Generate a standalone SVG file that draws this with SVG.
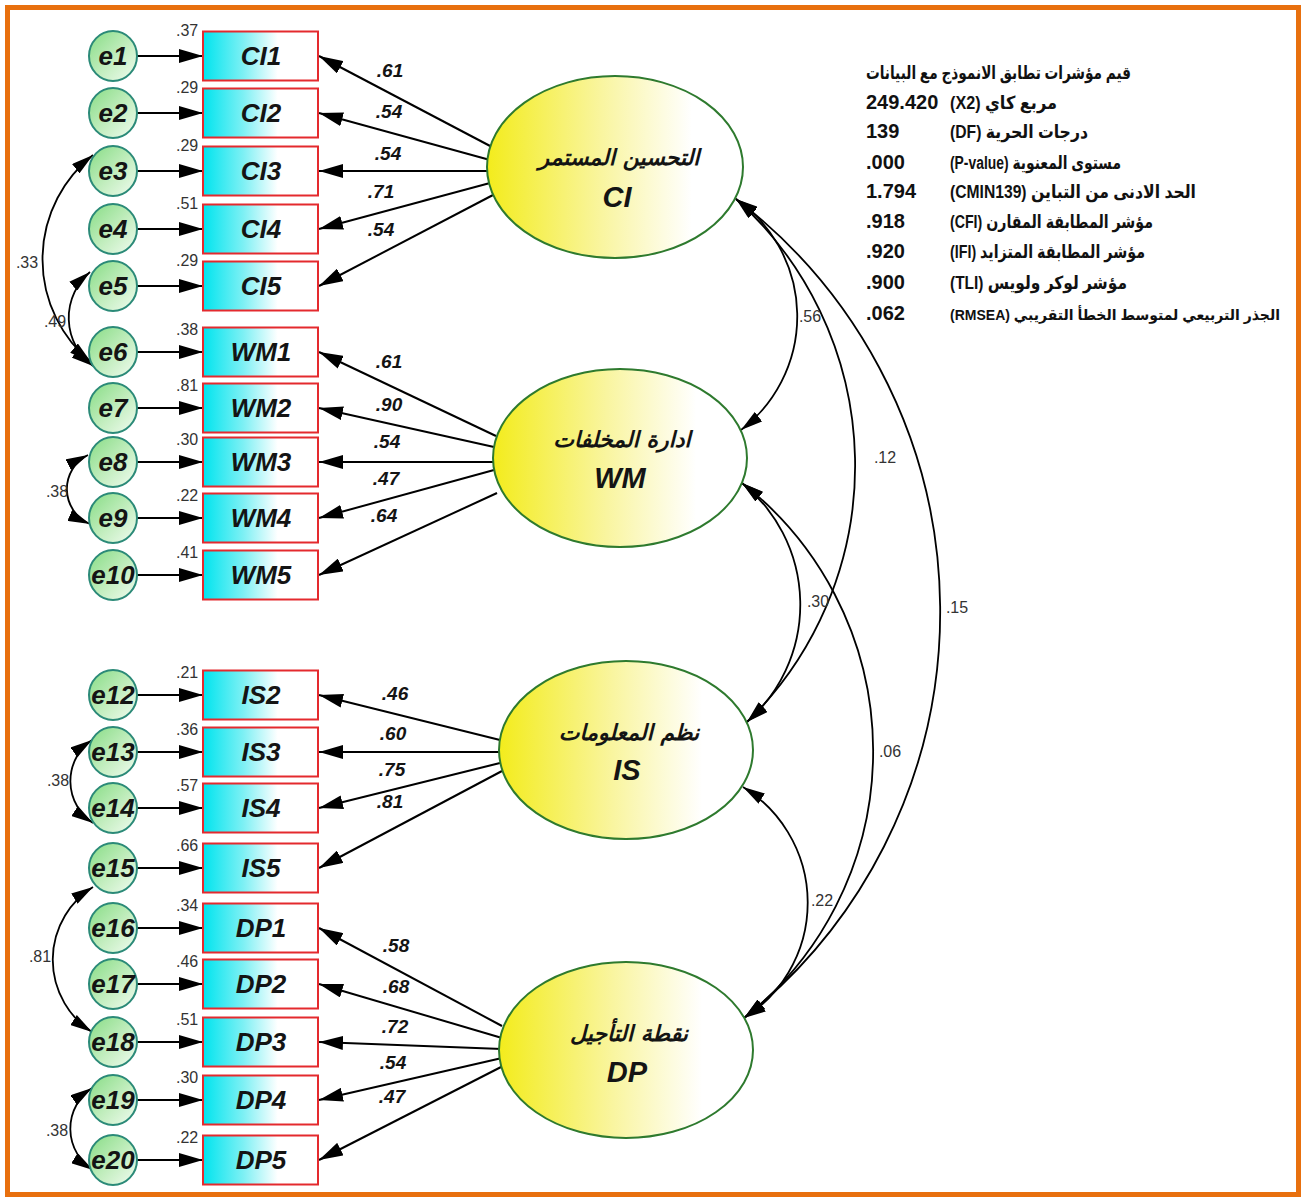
<svg xmlns="http://www.w3.org/2000/svg" width="1304" height="1199" viewBox="0 0 1304 1199">
<defs>
<linearGradient id="gBox" x1="0" y1="0" x2="1" y2="0"><stop offset="0" stop-color="#00E4EE"/><stop offset="0.35" stop-color="#7DF0F4"/><stop offset="0.65" stop-color="#FFFFFF"/></linearGradient>
<linearGradient id="gErr" x1="0" y1="0" x2="1" y2="1"><stop offset="0" stop-color="#86DC84"/><stop offset="0.55" stop-color="#C4EEC0"/><stop offset="1" stop-color="#F2FCF2"/></linearGradient>
<linearGradient id="gLat" x1="0" y1="0" x2="1" y2="0"><stop offset="0" stop-color="#F3EC1C"/><stop offset="0.45" stop-color="#F9F5A0"/><stop offset="0.8" stop-color="#FFFFFF"/></linearGradient>
<marker id="ah" markerUnits="userSpaceOnUse" markerWidth="24" markerHeight="14" refX="24" refY="7" orient="auto"><path d="M0,0 L24,7 L0,14 z" fill="#000"/></marker>
<marker id="ah2" markerUnits="userSpaceOnUse" markerWidth="22" markerHeight="12" refX="22" refY="6" orient="auto-start-reverse"><path d="M0,0 L22,6 L0,12 z" fill="#000"/></marker>
</defs>
<style>
.box{fill:url(#gBox);stroke:#E42A2E;stroke-width:2}
.err{fill:url(#gErr);stroke:#2B8A78;stroke-width:2}
.lat{fill:url(#gLat);stroke:#2E7A2E;stroke-width:2}
.bi{font-family:"Liberation Sans Narrow","Liberation Sans",Arial,sans-serif;font-weight:bold;font-style:italic;text-anchor:middle;fill:#141414}
.elbl{font-size:26px}
.blbl{font-size:26px}
.load{font-size:19px}
.abbr{font-size:29px}
.ar{font-family:"DejaVu Sans","Liberation Sans",sans-serif;font-weight:bold;font-style:italic;font-size:22px;text-anchor:middle;fill:#141414}
.num{font-family:"Liberation Sans Narrow","Liberation Sans",Arial,sans-serif;font-size:16px;fill:#333}
.var{text-anchor:start}
.mid{text-anchor:middle}
.edge{stroke:#000;stroke-width:2;fill:none;marker-end:url(#ah)}
.cov{stroke:#000;stroke-width:1.8;fill:none;marker-start:url(#ah2);marker-end:url(#ah2)}
.fit{font-family:"Liberation Sans","DejaVu Sans",Arial,sans-serif;font-weight:bold;font-size:20px;fill:#111}
.fitar{font-family:"Liberation Sans","DejaVu Sans",Arial,sans-serif;font-weight:bold;font-size:18px;fill:#111}
</style>
<rect x="0" y="0" width="1304" height="1199" fill="#FFFFFF"/>
<rect x="7.5" y="7.5" width="1291" height="1187" fill="none" stroke="#E8700E" stroke-width="5"/>

<g id="connectors">
<path class="edge" d="M137,56 H203"/>
<path class="edge" d="M137,113 H203"/>
<path class="edge" d="M137,171 H203"/>
<path class="edge" d="M137,229 H203"/>
<path class="edge" d="M137,286 H203"/>
<path class="edge" d="M137,352 H203"/>
<path class="edge" d="M137,408 H203"/>
<path class="edge" d="M137,462 H203"/>
<path class="edge" d="M137,518 H203"/>
<path class="edge" d="M137,575 H203"/>
<path class="edge" d="M137,695 H203"/>
<path class="edge" d="M137,752 H203"/>
<path class="edge" d="M137,808 H203"/>
<path class="edge" d="M137,868 H203"/>
<path class="edge" d="M137,928 H203"/>
<path class="edge" d="M137,984 H203"/>
<path class="edge" d="M137,1042 H203"/>
<path class="edge" d="M137,1100 H203"/>
<path class="edge" d="M137,1160 H203"/>
<path class="edge" d="M492,147 L319,56"/>
<path class="edge" d="M490,160 L319,113"/>
<path class="edge" d="M489,171 L319,171"/>
<path class="edge" d="M490,183 L319,229"/>
<path class="edge" d="M493,195 L319,286"/>
<path class="edge" d="M496,436 L319,352"/>
<path class="edge" d="M494,447 L319,408"/>
<path class="edge" d="M493,462 L319,462"/>
<path class="edge" d="M494,470 L319,518"/>
<path class="edge" d="M497,493 L319,575"/>
<path class="edge" d="M500,740 L319,695"/>
<path class="edge" d="M499,752 L319,752"/>
<path class="edge" d="M500,763 L319,808"/>
<path class="edge" d="M502,771 L319,868"/>
<path class="edge" d="M502,1026 L319,928"/>
<path class="edge" d="M502,1038 L319,984"/>
<path class="edge" d="M502,1049 L319,1042"/>
<path class="edge" d="M502,1058 L319,1100"/>
<path class="edge" d="M503,1066 L319,1160"/>
<path class="cov" d="M93,155 A133,133 0 0 0 91,362"/>
<path class="cov" d="M90,272 A60,60 0 0 0 93,366"/>
<path class="cov" d="M88,455 A38,38 0 0 0 90,524"/>
<path class="cov" d="M92,740 A50,50 0 0 0 93,823"/>
<path class="cov" d="M93,887 A86,86 0 0 0 92,1032"/>
<path class="cov" d="M92,1088 A49,49 0 0 0 93,1170"/>
<path class="cov" d="M736,199 A143,143 0 0 1 741,430"/>
<path class="cov" d="M736,199 A358,358 0 0 1 747,722"/>
<path class="cov" d="M736,199 A519,519 0 0 1 744,1018"/>
<path class="cov" d="M742,483 A156,156 0 0 1 747,722"/>
<path class="cov" d="M742,483 A340,340 0 0 1 744,1018"/>
<path class="cov" d="M743,787 A136,136 0 0 1 744,1018"/>
<text class="bi load" x="390" y="77">.61</text>
<text class="bi load" x="389" y="118">.54</text>
<text class="bi load" x="388" y="160">.54</text>
<text class="bi load" x="381" y="198">.71</text>
<text class="bi load" x="381" y="236">.54</text>
<text class="bi load" x="389" y="368">.61</text>
<text class="bi load" x="389" y="411">.90</text>
<text class="bi load" x="387" y="448">.54</text>
<text class="bi load" x="386" y="485">.47</text>
<text class="bi load" x="384" y="522">.64</text>
<text class="bi load" x="395" y="700">.46</text>
<text class="bi load" x="393" y="740">.60</text>
<text class="bi load" x="392" y="776">.75</text>
<text class="bi load" x="390" y="808">.81</text>
<text class="bi load" x="396" y="952">.58</text>
<text class="bi load" x="396" y="993">.68</text>
<text class="bi load" x="395" y="1033">.72</text>
<text class="bi load" x="393" y="1069">.54</text>
<text class="bi load" x="392" y="1103">.47</text>
<text class="num mid" x="27" y="268">.33</text>
<text class="num mid" x="55" y="327">.49</text>
<text class="num mid" x="57" y="497">.38</text>
<text class="num mid" x="58" y="786">.38</text>
<text class="num mid" x="40" y="962">.81</text>
<text class="num mid" x="57" y="1136">.38</text>
<text class="num mid" x="810" y="322">.56</text>
<text class="num mid" x="885" y="463">.12</text>
<text class="num mid" x="957" y="613">.15</text>
<text class="num mid" x="818" y="607">.30</text>
<text class="num mid" x="890" y="757">.06</text>
<text class="num mid" x="822" y="906">.22</text>
</g>

<g id="e1"><ellipse class="err" cx="113" cy="56" rx="24" ry="25"/><text class="bi elbl" x="113" y="65">e1</text></g>
<g id="e2"><ellipse class="err" cx="113" cy="113" rx="24" ry="25"/><text class="bi elbl" x="113" y="122">e2</text></g>
<g id="e3"><ellipse class="err" cx="113" cy="171" rx="24" ry="25"/><text class="bi elbl" x="113" y="180">e3</text></g>
<g id="e4"><ellipse class="err" cx="113" cy="229" rx="24" ry="25"/><text class="bi elbl" x="113" y="238">e4</text></g>
<g id="e5"><ellipse class="err" cx="113" cy="286" rx="24" ry="25"/><text class="bi elbl" x="113" y="295">e5</text></g>
<g id="e6"><ellipse class="err" cx="113" cy="352" rx="24" ry="25"/><text class="bi elbl" x="113" y="361">e6</text></g>
<g id="e7"><ellipse class="err" cx="113" cy="408" rx="24" ry="25"/><text class="bi elbl" x="113" y="417">e7</text></g>
<g id="e8"><ellipse class="err" cx="113" cy="462" rx="24" ry="25"/><text class="bi elbl" x="113" y="471">e8</text></g>
<g id="e9"><ellipse class="err" cx="113" cy="518" rx="24" ry="25"/><text class="bi elbl" x="113" y="527">e9</text></g>
<g id="e10"><ellipse class="err" cx="113" cy="575" rx="24" ry="25"/><text class="bi elbl" x="113" y="584">e10</text></g>
<g id="e12"><ellipse class="err" cx="113" cy="695" rx="24" ry="25"/><text class="bi elbl" x="113" y="704">e12</text></g>
<g id="e13"><ellipse class="err" cx="113" cy="752" rx="24" ry="25"/><text class="bi elbl" x="113" y="761">e13</text></g>
<g id="e14"><ellipse class="err" cx="113" cy="808" rx="24" ry="25"/><text class="bi elbl" x="113" y="817">e14</text></g>
<g id="e15"><ellipse class="err" cx="113" cy="868" rx="24" ry="25"/><text class="bi elbl" x="113" y="877">e15</text></g>
<g id="e16"><ellipse class="err" cx="113" cy="928" rx="24" ry="25"/><text class="bi elbl" x="113" y="937">e16</text></g>
<g id="e17"><ellipse class="err" cx="113" cy="984" rx="24" ry="25"/><text class="bi elbl" x="113" y="993">e17</text></g>
<g id="e18"><ellipse class="err" cx="113" cy="1042" rx="24" ry="25"/><text class="bi elbl" x="113" y="1051">e18</text></g>
<g id="e19"><ellipse class="err" cx="113" cy="1100" rx="24" ry="25"/><text class="bi elbl" x="113" y="1109">e19</text></g>
<g id="e20"><ellipse class="err" cx="113" cy="1160" rx="24" ry="25"/><text class="bi elbl" x="113" y="1169">e20</text></g>

<g id="CI1"><rect class="box" x="203" y="31.5" width="115" height="49"/><text class="bi blbl" x="261" y="65">CI1</text><text class="num var" x="176" y="36">.37</text></g>
<g id="CI2"><rect class="box" x="203" y="88.5" width="115" height="49"/><text class="bi blbl" x="261" y="122">CI2</text><text class="num var" x="176" y="93">.29</text></g>
<g id="CI3"><rect class="box" x="203" y="146.5" width="115" height="49"/><text class="bi blbl" x="261" y="180">CI3</text><text class="num var" x="176" y="151">.29</text></g>
<g id="CI4"><rect class="box" x="203" y="204.5" width="115" height="49"/><text class="bi blbl" x="261" y="238">CI4</text><text class="num var" x="176" y="209">.51</text></g>
<g id="CI5"><rect class="box" x="203" y="261.5" width="115" height="49"/><text class="bi blbl" x="261" y="295">CI5</text><text class="num var" x="176" y="266">.29</text></g>
<g id="WM1"><rect class="box" x="203" y="327.5" width="115" height="49"/><text class="bi blbl" x="261" y="361">WM1</text><text class="num var" x="176" y="335">.38</text></g>
<g id="WM2"><rect class="box" x="203" y="383.5" width="115" height="49"/><text class="bi blbl" x="261" y="417">WM2</text><text class="num var" x="176" y="391">.81</text></g>
<g id="WM3"><rect class="box" x="203" y="437.5" width="115" height="49"/><text class="bi blbl" x="261" y="471">WM3</text><text class="num var" x="176" y="445">.30</text></g>
<g id="WM4"><rect class="box" x="203" y="493.5" width="115" height="49"/><text class="bi blbl" x="261" y="527">WM4</text><text class="num var" x="176" y="501">.22</text></g>
<g id="WM5"><rect class="box" x="203" y="550.5" width="115" height="49"/><text class="bi blbl" x="261" y="584">WM5</text><text class="num var" x="176" y="558">.41</text></g>
<g id="IS2"><rect class="box" x="203" y="670.5" width="115" height="49"/><text class="bi blbl" x="261" y="704">IS2</text><text class="num var" x="176" y="678">.21</text></g>
<g id="IS3"><rect class="box" x="203" y="727.5" width="115" height="49"/><text class="bi blbl" x="261" y="761">IS3</text><text class="num var" x="176" y="735">.36</text></g>
<g id="IS4"><rect class="box" x="203" y="783.5" width="115" height="49"/><text class="bi blbl" x="261" y="817">IS4</text><text class="num var" x="176" y="791">.57</text></g>
<g id="IS5"><rect class="box" x="203" y="843.5" width="115" height="49"/><text class="bi blbl" x="261" y="877">IS5</text><text class="num var" x="176" y="851">.66</text></g>
<g id="DP1"><rect class="box" x="203" y="903.5" width="115" height="49"/><text class="bi blbl" x="261" y="937">DP1</text><text class="num var" x="176" y="911">.34</text></g>
<g id="DP2"><rect class="box" x="203" y="959.5" width="115" height="49"/><text class="bi blbl" x="261" y="993">DP2</text><text class="num var" x="176" y="967">.46</text></g>
<g id="DP3"><rect class="box" x="203" y="1017.5" width="115" height="49"/><text class="bi blbl" x="261" y="1051">DP3</text><text class="num var" x="176" y="1025">.51</text></g>
<g id="DP4"><rect class="box" x="203" y="1075.5" width="115" height="49"/><text class="bi blbl" x="261" y="1109">DP4</text><text class="num var" x="176" y="1083">.30</text></g>
<g id="DP5"><rect class="box" x="203" y="1135.5" width="115" height="49"/><text class="bi blbl" x="261" y="1169">DP5</text><text class="num var" x="176" y="1143">.22</text></g>

<g id="CI"><ellipse class="lat" cx="615" cy="167" rx="128" ry="91"/><text class="ar" x="619" y="165">التحسين المستمر</text><text class="bi abbr" x="617" y="207">CI</text></g>
<g id="WM"><ellipse class="lat" cx="620" cy="458" rx="127" ry="89"/><text class="ar" x="622" y="447">ادارة المخلفات</text><text class="bi abbr" x="620" y="488">WM</text></g>
<g id="IS"><ellipse class="lat" cx="626" cy="750" rx="127" ry="89"/><text class="ar" x="629" y="740">نظم المعلومات</text><text class="bi abbr" x="627" y="780">IS</text></g>
<g id="DP"><ellipse class="lat" cx="626" cy="1050" rx="127" ry="88"/><text class="ar" x="629" y="1041">نقطة التأجيل</text><text class="bi abbr" x="627" y="1082">DP</text></g>

<g id="fit-indices">
<text class="fitar" x="866" y="79" direction="rtl" text-anchor="end" textLength="265" lengthAdjust="spacingAndGlyphs">قيم مؤشرات تطابق الانموذج مع البيانات</text>
<text class="fit" x="866" y="109">249.420</text>
<text class="fit" x="866" y="138">139</text>
<text class="fit" x="866" y="169">.000</text>
<text class="fit" x="866" y="198">1.794</text>
<text class="fit" x="866" y="228">.918</text>
<text class="fit" x="866" y="258">.920</text>
<text class="fit" x="866" y="289">.900</text>
<text class="fit" x="866" y="320">.062</text>
<text class="fitar" x="950" y="109" direction="rtl" text-anchor="end" textLength="107" lengthAdjust="spacingAndGlyphs">مربع كاي (X2)</text>
<text class="fitar" x="950" y="138" direction="rtl" text-anchor="end" textLength="138" lengthAdjust="spacingAndGlyphs">درجات الحرية (DF)</text>
<text class="fitar" x="950" y="169" direction="rtl" text-anchor="end" textLength="171" lengthAdjust="spacingAndGlyphs">مستوى المعنوية (P-value)</text>
<text class="fitar" x="950" y="198" direction="rtl" text-anchor="end" textLength="246" lengthAdjust="spacingAndGlyphs">الحد الادنى من التباين (CMIN139)</text>
<text class="fitar" x="950" y="228" direction="rtl" text-anchor="end" textLength="203" lengthAdjust="spacingAndGlyphs">مؤشر المطابقة المقارن (CFI)</text>
<text class="fitar" x="950" y="258" direction="rtl" text-anchor="end" textLength="195" lengthAdjust="spacingAndGlyphs">مؤشر المطابقة المتزايد (IFI)</text>
<text class="fitar" x="950" y="289" direction="rtl" text-anchor="end" textLength="177" lengthAdjust="spacingAndGlyphs">مؤشر لوكر ولويس (TLI)</text>
<text class="fitar" x="950" y="320" direction="rtl" text-anchor="end" textLength="330" lengthAdjust="spacingAndGlyphs" style="font-size:15px">الجذر التربيعي لمتوسط الخطأ التقريبي (RMSEA)</text>
</g>
</svg>
